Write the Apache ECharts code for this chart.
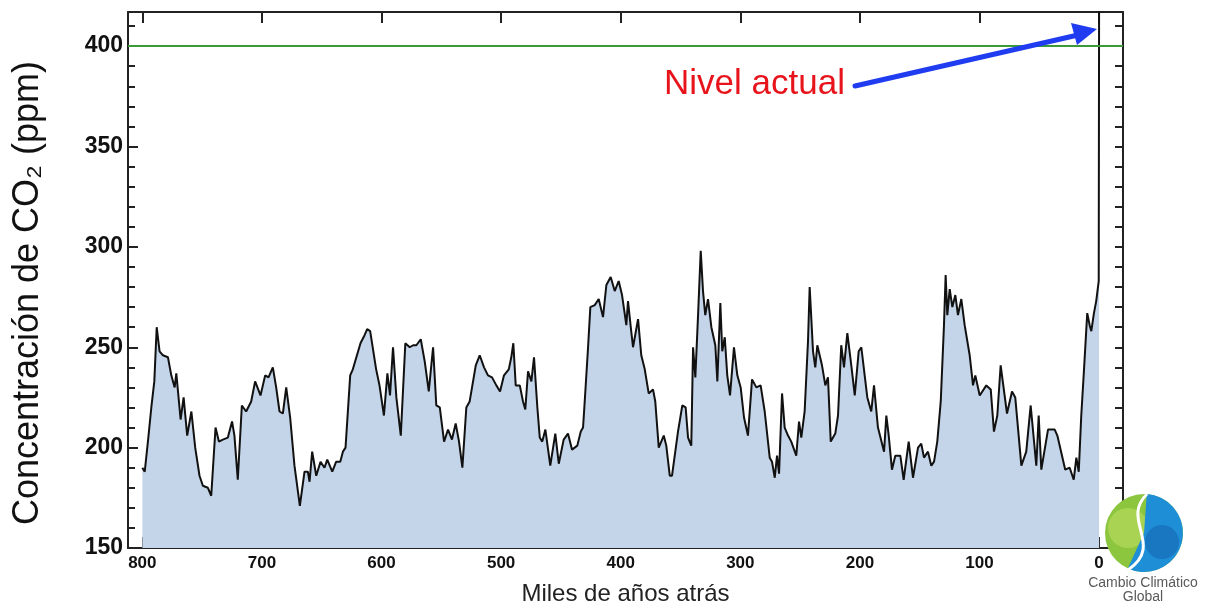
<!DOCTYPE html>
<html>
<head>
<meta charset="utf-8">
<script src="https://cdn.jsdelivr.net/npm/echarts@6/dist/echarts.min.js"></script>
<style>
  html, body { margin: 0; padding: 0; background: #fff; }
  #chart { width: 1208px; height: 602px; }
</style>
</head>
<body>
<div id="chart"></div>
<script>
// miles de años atrás (de izquierda a derecha)
const ages = [
  800, 798, 795, 792.5, 790, 788, 785.6, 782.8, 778.6, 775.8, 773, 771.6, 768, 765.5, 762.5, 759, 755.8, 752.2, 749.4, 745.2,
  742.4, 738.8, 736, 732.7, 728.5, 725, 723, 720.2, 716.8, 713.2, 709, 705.7, 701.2, 697.3, 694.5, 690.9, 688.1, 685.3, 682.5, 679.7,
  676.4, 672.8, 668.3, 664.4, 661.6, 660.2, 658, 654.6, 651, 647.7, 645.4, 641.2, 637.9, 634.5, 632.3, 630.1, 626.2, 624, 617.6, 614.2,
  612, 609.5, 604.5, 601.7, 598, 595.1, 592.9, 590.4, 587.6, 583.9, 580.1, 576.4, 573.6, 570.9, 567.2, 563.9, 560.5, 556.9, 554.2, 551.3,
  547.7, 544.4, 541.1, 538, 535.2, 532.4, 529.1, 526.3, 521.2, 517.9, 514.3, 511, 507.6, 504, 500.9, 497.6, 493.6, 491.5, 489.8, 487.8,
  484.4, 481.7, 479.8, 477.5, 474.7, 472.5, 469.7, 467.7, 465.6, 463, 458.9, 454.7, 451.8, 447.7, 444.1, 440.7, 436.3, 433.4, 431.5, 430.1,
  427.3, 425.4, 421.7, 418.4, 414.8, 412, 408.4, 405, 401.7, 398.9, 395.3, 393.9, 391.6, 389.7, 385.5, 382.8, 379.9, 376.6, 373, 371.1,
  368.2, 364, 361.9, 359, 357.1, 352.1, 348.5, 345.7, 343.7, 341, 339.5, 337.6, 335.4, 333.1, 331.2, 329.3, 327, 324.2, 320.9, 319.2,
  316.7, 315.1, 313, 310.9, 308.6, 305.3, 302.5, 299.7, 296.9, 293.6, 290.2, 286.6, 283, 279.6, 275.4, 273.5, 271.2, 269.3, 267.6, 265.1,
  262.9, 260.1, 257.4, 253.2, 250.9, 249, 246.2, 243.4, 242, 239.2, 237.3, 235.6, 231.7, 228.9, 226.7, 224.4, 220.6, 218.3, 215.6, 213.3,
  210.5, 207.2, 204.3, 201, 198.8, 196, 193.8, 190.5, 188.2, 184.9, 179.8, 177.9, 175.9, 173.2, 170.4, 166.2, 163.4, 159.2, 155.6, 151.4,
  148.7, 146.4, 143.1, 140.3, 138, 135.3, 132.4, 129.7, 128.3, 126.9, 124.9, 122.7, 120.2, 118, 115.2, 112.4, 108.2, 105.4, 103.5, 99.8,
  94.3, 90.6, 87.9, 85.1, 82.3, 77, 72.8, 70.1, 65, 60.9, 57.2, 52.5, 50.5, 48.3, 42.7, 37.1, 34.9, 28.3, 24.6, 21.2,
  19, 17, 14.9, 12.6, 9.9, 7.9, 6.5, 4.3, 2.4, 0.3, 0
];
// CO2 (ppm)
const co2 = [
  190, 188, 205, 220, 233, 260, 248, 246, 245, 236, 230, 237, 214, 225, 206, 218, 200, 186, 181, 180,
  176, 210, 203, 204, 205, 213, 206, 184, 221, 218, 223, 233, 226, 236, 235, 240, 230, 218, 217, 230,
  215, 191, 171, 188, 188, 183, 198, 186, 193, 190, 194, 188, 193, 193, 198, 200, 236, 239, 252, 256,
  259, 258, 239, 231, 216, 237, 226, 250, 225, 206, 252, 250, 251, 251, 254, 243, 228, 250, 221, 220,
  203, 209, 204, 212, 203, 190, 220, 223, 241, 246, 240, 236, 235, 231, 228, 236, 239, 245, 252, 231,
  231, 223, 219, 238, 233, 245, 220, 205, 203, 209, 191, 207, 192, 204, 207, 199, 201, 208, 210, 223,
  250, 270, 271, 274, 265, 281, 285, 278, 283, 276, 261, 273, 260, 250, 264, 246, 239, 227, 229, 223,
  200, 206, 201, 186, 186, 208, 221, 220, 205, 201, 250, 235, 265, 298, 278, 266, 274, 260, 251, 233,
  272, 248, 255, 236, 226, 250, 236, 230, 215, 206, 234, 230, 231, 218, 195, 193, 185, 196, 187, 227,
  210, 206, 203, 196, 213, 205, 218, 253, 280, 248, 240, 251, 241, 231, 235, 203, 207, 216, 251, 240,
  257, 241, 226, 248, 250, 236, 225, 218, 231, 210, 198, 216, 206, 189, 196, 196, 184, 203, 185, 200,
  202, 195, 198, 191, 193, 203, 223, 261, 286, 266, 279, 270, 276, 266, 274, 261, 246, 231, 236, 226,
  231, 229, 208, 216, 241, 217, 228, 225, 191, 198, 221, 191, 216, 189, 209, 209, 206, 189, 190, 184,
  195, 188, 216, 239, 267, 261, 258, 267, 273, 283, 418
];
const xTicks = [0, 100, 200, 300, 400, 500, 600, 700, 800];
const currentLevel = 400;

const chart = echarts.init(document.getElementById('chart'));
const font = 'Liberation Sans, Arial, Helvetica, sans-serif';
const boxLine = { show: true, onZero: false, lineStyle: { color: '#222', width: 2 } };

const option = {
  animation: false,
  backgroundColor: '#fff',
  grid: { left: 128, right: 85, top: 12, bottom: 54, containLabel: false, outerBoundsMode: 'none' },
  xAxis: [
    {
      type: 'value', position: 'bottom', min: -20, max: 812, inverse: true,
      axisLine: boxLine,
      axisTick: { inside: true, length: 11, customValues: xTicks, lineStyle: { color: '#222', width: 2 } },
      axisLabel: { customValues: xTicks, color: '#111', fontFamily: font, fontWeight: 'bold', fontSize: 17, margin: 7 },
      splitLine: { show: false },
      name: 'Miles de años atrás', nameLocation: 'middle', nameGap: 34,
      nameTextStyle: { color: '#222', fontFamily: font, fontSize: 24 }
    },
    {
      type: 'value', position: 'top', min: -20, max: 812, inverse: true,
      axisLine: boxLine,
      axisTick: { inside: true, length: 11, customValues: xTicks, lineStyle: { color: '#222', width: 2 } },
      axisLabel: { show: false },
      splitLine: { show: false }
    }
  ],
  yAxis: [
    {
      type: 'value', position: 'left', min: 150, max: 417, interval: 10,
      axisLine: boxLine,
      axisTick: { inside: true, length: 7, lineStyle: { color: '#222', width: 2 } },
      axisLabel: {
        color: '#111', fontFamily: font, fontWeight: 'bold', fontSize: 23, margin: 5,
        formatter: function (v) { return v % 50 === 0 ? String(v) : ''; }
      },
      splitLine: { show: false }
    },
    {
      type: 'value', position: 'right', min: 150, max: 417, interval: 10,
      axisLine: boxLine,
      axisTick: { inside: true, length: 8, lineStyle: { color: '#222', width: 2 } },
      axisLabel: { show: false },
      splitLine: { show: false }
    },
    {
      type: 'value', position: 'left', min: 150, max: 417, interval: 50,
      axisLine: { show: false, onZero: false },
      axisTick: { inside: true, length: 10, lineStyle: { color: '#222', width: 2 } },
      axisLabel: { show: false },
      splitLine: { show: false }
    }
  ],
  series: [
    {
      type: 'line',
      xAxisIndex: 0,
      yAxisIndex: 0,
      data: ages.map((a, i) => [a, co2[i]]),
      symbol: 'none',
      clip: true,
      lineStyle: { color: '#111', width: 2 },
      areaStyle: { color: '#c4d5e9', opacity: 1 },
      markLine: {
        silent: true,
        symbol: 'none',
        label: { show: false },
        lineStyle: { color: '#3a9a3a', width: 2, type: 'solid' },
        data: [{ yAxis: currentLevel }]
      },
      z: 3
    }
  ],
  graphic: [
    {
      type: 'text', x: 28, y: 293, rotation: Math.PI / 2, z: 10,
      style: {
        text: 'Concentración de CO₂ (ppm)', fill: '#111', font: '36px ' + font,
        textAlign: 'center', textVerticalAlign: 'middle'
      }
    },
    {
      type: 'text', x: 664, y: 84, z: 10,
      style: { text: 'Nivel actual', fill: '#e8141c', font: '35px ' + font, textVerticalAlign: 'middle' }
    },
    {
      type: 'line', z: 10,
      shape: { x1: 855, y1: 86, x2: 1078, y2: 35 },
      style: { stroke: '#1f3cf0', lineWidth: 5, lineCap: 'round' }
    },
    {
      type: 'polygon', z: 10,
      shape: { points: [[1071, 23], [1097, 29], [1077, 45]] },
      style: { fill: '#1f3cf0' }
    },
    // logo
    {
      type: 'circle', z: 10,
      shape: { cx: 1144, cy: 533, r: 39 },
      style: { fill: '#8cc63f' }
    },
    {
      type: 'circle', z: 10,
      shape: { cx: 1128, cy: 528, r: 20 },
      style: { fill: '#a9d353' }
    },
    {
      type: 'sector', z: 11,
      shape: { cx: 1144, cy: 533, r0: 0, r: 39, startAngle: -1.5, endAngle: 2.0, clockwise: true },
      style: { fill: '#1e8fd6' }
    },
    {
      type: 'circle', z: 12,
      shape: { cx: 1162, cy: 542, r: 17 },
      style: { fill: '#1568b4', opacity: 0.6 }
    },
    {
      type: 'bezierCurve', z: 13,
      shape: { x1: 1147, y1: 494, cpx1: 1120, cpy1: 520, cpx2: 1165, cpy2: 545, x2: 1128, y2: 570 },
      style: { stroke: '#fff', lineWidth: 3, fill: 'none' }
    },
    {
      type: 'text', z: 12, x: 1143, y: 583,
      style: { text: 'Cambio Climático', fill: '#5a5a5a', font: '14px ' + font, textAlign: 'center', textVerticalAlign: 'middle' }
    },
    {
      type: 'text', z: 12, x: 1143, y: 597,
      style: { text: 'Global', fill: '#5a5a5a', font: '14px ' + font, textAlign: 'center', textVerticalAlign: 'middle' }
    }
  ]
};
chart.setOption(option);
</script>
</body>
</html>
